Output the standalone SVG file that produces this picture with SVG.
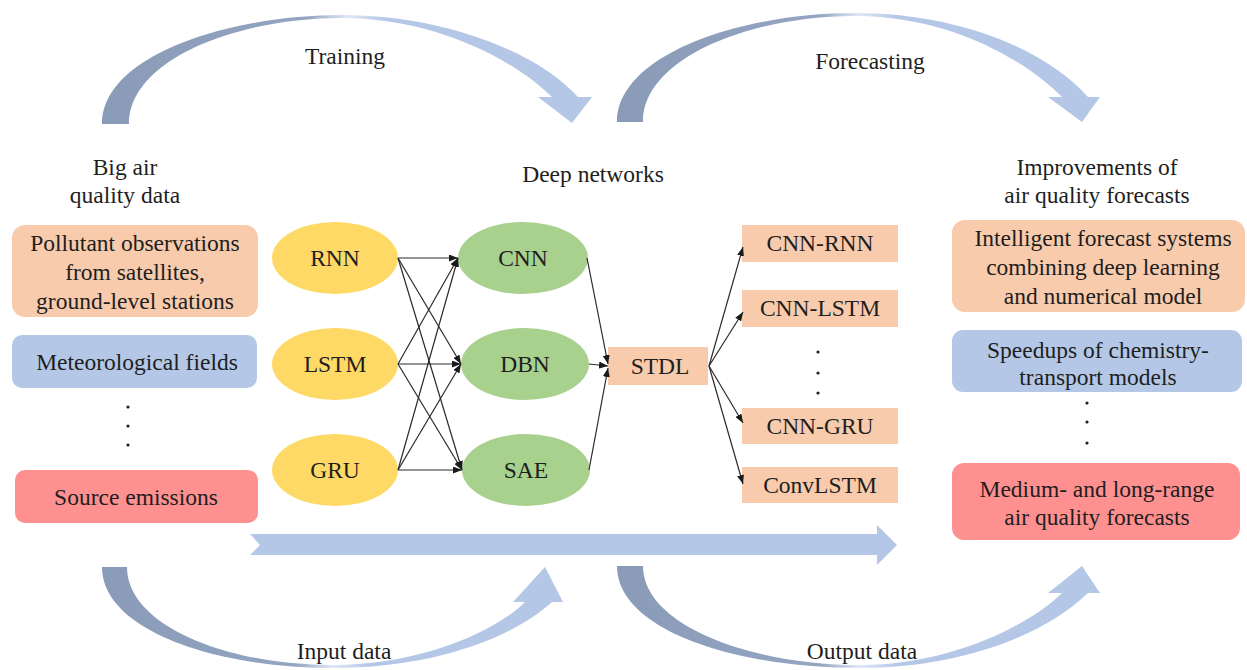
<svg xmlns="http://www.w3.org/2000/svg" width="1247" height="670" viewBox="0 0 1247 670">
<style>
text{font-family:"Liberation Serif","Times New Roman",serif;font-size:23.5px;fill:#1e1e1e;text-anchor:middle}
.or{fill:#f8cbad}
.bl{fill:#b4c7e7}
.rd{fill:#ff9090}
.ye{fill:#ffd966}
.gr{fill:#a9d18e}
.ln{stroke:#2a2a2a;stroke-width:1.2;fill:none;marker-end:url(#ah)}
</style>
<defs>
<marker id="ah" markerUnits="userSpaceOnUse" markerWidth="9" markerHeight="7" refX="9" refY="3.5" orient="auto">
<path d="M0,0 L9,3.5 L0,7 Z" fill="#1a1a1a"/>
</marker>
<linearGradient id="arcg" x1="0" y1="0" x2="1" y2="0">
<stop offset="0" stop-color="#8a9bb8"/>
<stop offset="0.42" stop-color="#93a5c2"/>
<stop offset="0.5" stop-color="#dfe7f4"/>
<stop offset="0.58" stop-color="#b4c7e7"/>
<stop offset="1" stop-color="#b4c7e7"/>
</linearGradient>
</defs>

<g id="arcs">
<g id="arc-training">
<path d="M102,124 C102,55 230,15 342,15 C440,15 535,50 578,97 L592,97 L572,123 L538,97 L552,97 C515,60 435,18 342,18 C235,18 129,60 129,124 Z" fill="url(#arcg)"/>
<text x="345" y="64">Training</text>
</g>
<g id="arc-forecasting">
<path d="M617,122 C617,55 740,13 855,13 C955,13 1045,48 1088,97 L1100,97 L1082,122 L1048,97 L1062,97 C1025,60 950,16 855,16 C750,16 643,58 643,122 Z" fill="url(#arcg)"/>
<text x="870" y="69">Forecasting</text>
</g>
<g id="arc-input">
<path d="M102,567 C102,630 215,668 333,668 C430,668 510,640 552,602 L563,602 L545,567 L513,602 L525,602 C495,632 420,665 333,665 C225,665 127,625 127,567 Z" fill="url(#arcg)"/>
<text x="344" y="659">Input data</text>
</g>
<g id="arc-output">
<path d="M617,566 C617,630 735,668 860,668 C960,668 1045,635 1088,593 L1100,593 L1082,566 L1048,593 L1062,593 C1030,625 950,665 860,665 C750,665 643,625 643,566 Z" fill="url(#arcg)"/>
<text x="862" y="659">Output data</text>
</g>
<g id="main-arrow">
<path d="M250,534 L877,534 L877,525 L897,545 L877,565 L877,555 L250,555 L260,545 Z" class="bl"/>
</g>
</g>

<g id="col-left">
<text x="125" y="175">Big air</text>
<text x="125" y="203">quality data</text>
<g id="n-pollutant">
<rect x="12" y="225" width="246" height="92" rx="13" class="or"/>
<text x="135" y="251">Pollutant observations</text>
<text x="135" y="280">from satellites,</text>
<text x="135" y="309">ground-level stations</text>
</g>
<g id="n-meteo">
<rect x="12" y="335" width="245" height="53" rx="10" class="bl"/>
<text x="137" y="370">Meteorological fields</text>
</g>
<g id="dots-left" fill="#1e1e1e">
<circle cx="128" cy="407" r="1.6"/><circle cx="128" cy="426" r="1.6"/><circle cx="128" cy="445" r="1.6"/>
</g>
<g id="n-source">
<rect x="15" y="470" width="243" height="53" rx="10" class="rd"/>
<text x="136" y="505">Source emissions</text>
</g>
</g>

<g id="col-mid">
<text x="593" y="182">Deep networks</text>
<g id="n-rnn"><ellipse cx="335" cy="258" rx="63" ry="36" class="ye"/><text x="335" y="266">RNN</text></g>
<g id="n-lstm"><ellipse cx="335" cy="364" rx="63" ry="36" class="ye"/><text x="335" y="372">LSTM</text></g>
<g id="n-gru"><ellipse cx="335" cy="470" rx="63" ry="36" class="ye"/><text x="335" y="478">GRU</text></g>
<g id="n-cnn"><ellipse cx="523" cy="258" rx="65" ry="36" class="gr"/><text x="523" y="266">CNN</text></g>
<g id="n-dbn"><ellipse cx="525" cy="364" rx="64" ry="36" class="gr"/><text x="525" y="372">DBN</text></g>
<g id="n-sae"><ellipse cx="526" cy="470" rx="64" ry="36" class="gr"/><text x="526" y="478">SAE</text></g>
<g id="n-stdl"><rect x="608" y="347" width="100" height="38" class="or"/><text x="660" y="374">STDL</text></g>
<g id="n-cnnrnn"><rect x="742" y="225" width="156" height="37" class="or"/><text x="820" y="251">CNN-RNN</text></g>
<g id="n-cnnlstm"><rect x="742" y="290" width="156" height="37" class="or"/><text x="820" y="316">CNN-LSTM</text></g>
<g id="dots-mid" fill="#1e1e1e">
<circle cx="818" cy="352" r="1.6"/><circle cx="818" cy="373" r="1.6"/><circle cx="818" cy="393" r="1.6"/>
</g>
<g id="n-cnngru"><rect x="742" y="408" width="156" height="36" class="or"/><text x="820" y="434">CNN-GRU</text></g>
<g id="n-convlstm"><rect x="742" y="467" width="156" height="36" class="or"/><text x="820" y="493">ConvLSTM</text></g>
</g>

<g id="col-right">
<text x="1097" y="175">Improvements of</text>
<text x="1097" y="203">air quality forecasts</text>
<g id="n-intelligent">
<rect x="952" y="220" width="293" height="92" rx="13" class="or"/>
<text x="1103" y="246">Intelligent forecast systems</text>
<text x="1103" y="275">combining deep learning</text>
<text x="1103" y="304">and numerical model</text>
</g>
<g id="n-speedups">
<rect x="952" y="330" width="290" height="62" rx="11" class="bl"/>
<text x="1098" y="358">Speedups of chemistry-</text>
<text x="1098" y="385">transport models</text>
</g>
<g id="dots-right" fill="#1e1e1e">
<circle cx="1087" cy="403" r="1.6"/><circle cx="1087" cy="422" r="1.6"/><circle cx="1087" cy="443" r="1.6"/>
</g>
<g id="n-medium">
<rect x="952" y="463" width="288" height="77" rx="12" class="rd"/>
<text x="1097" y="497">Medium- and long-range</text>
<text x="1097" y="525">air quality forecasts</text>
</g>
</g>

<g id="connectors">
<line class="ln" x1="398" y1="258" x2="458" y2="258"/>
<line class="ln" x1="398" y1="258" x2="461" y2="364"/>
<line class="ln" x1="398" y1="258" x2="462" y2="470"/>
<line class="ln" x1="398" y1="364" x2="458" y2="258"/>
<line class="ln" x1="398" y1="364" x2="461" y2="364"/>
<line class="ln" x1="398" y1="364" x2="462" y2="470"/>
<line class="ln" x1="398" y1="470" x2="458" y2="258"/>
<line class="ln" x1="398" y1="470" x2="461" y2="364"/>
<line class="ln" x1="398" y1="470" x2="462" y2="470"/>
<line class="ln" x1="587" y1="258" x2="608" y2="364"/>
<line class="ln" x1="589" y1="364" x2="608" y2="366"/>
<line class="ln" x1="589" y1="470" x2="608" y2="368"/>
<line class="ln" x1="709" y1="366" x2="743" y2="247"/>
<line class="ln" x1="709" y1="366" x2="743" y2="312"/>
<line class="ln" x1="709" y1="366" x2="743" y2="423"/>
<line class="ln" x1="709" y1="366" x2="743" y2="484"/>
</g>
</svg>
